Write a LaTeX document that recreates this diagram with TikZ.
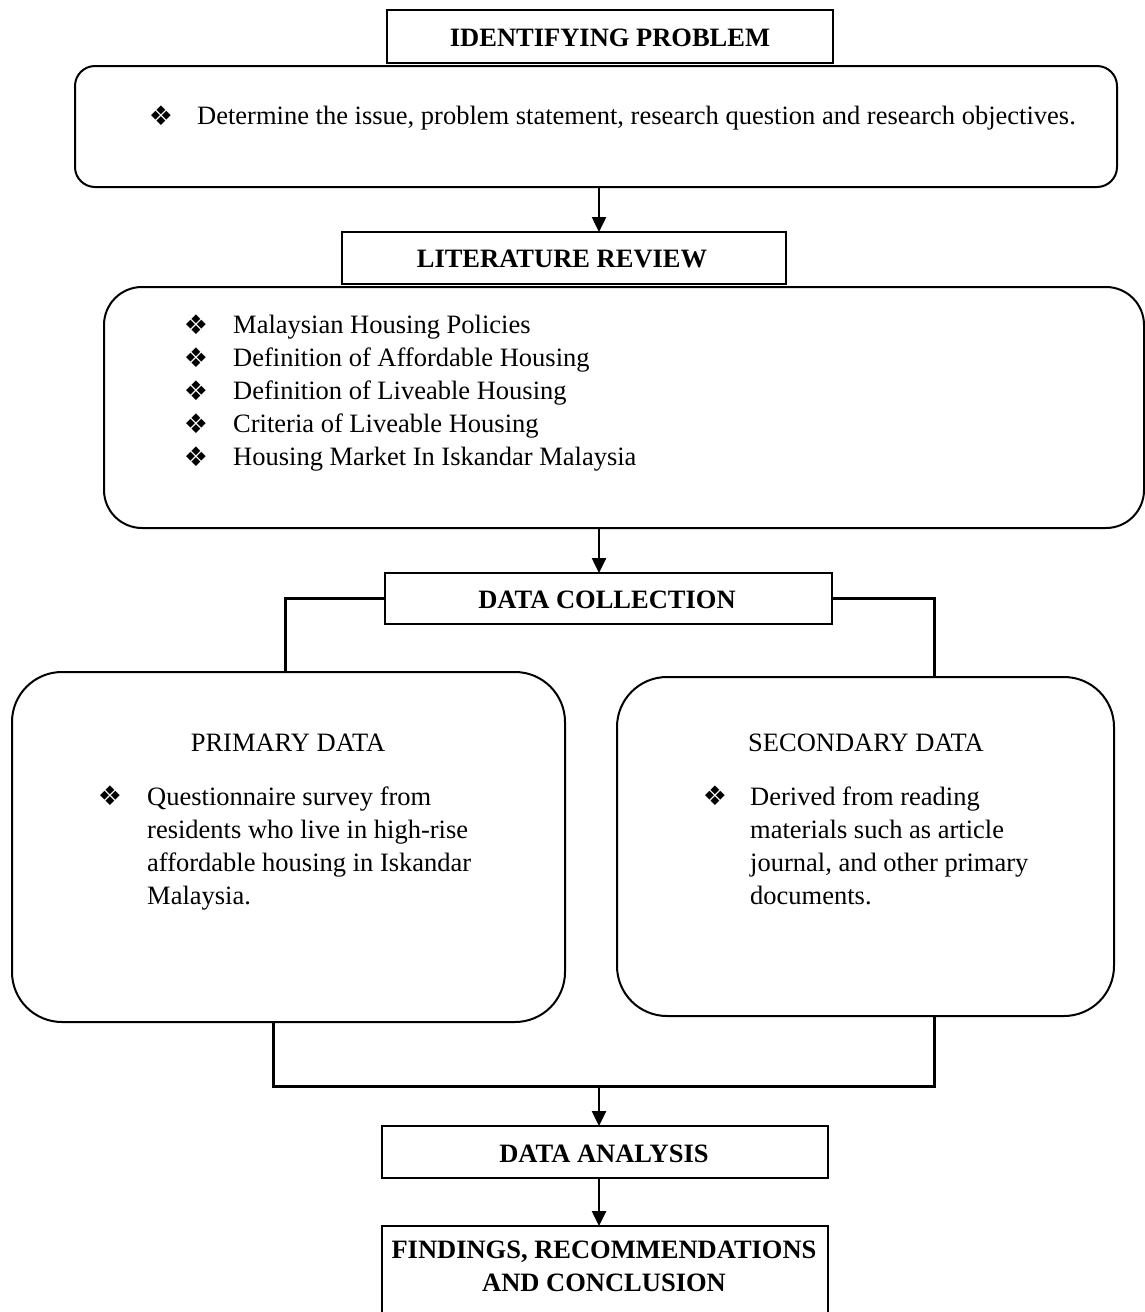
\documentclass[tikz,border=0pt]{standalone}
\usepackage{fontspec}
\setmainfont{Liberation Serif}
\newfontfamily\symfont{DejaVu Sans}
\usetikzlibrary{arrows.meta}
\tikzset{
  sqbox/.style={draw, line width=2pt, inner sep=0pt, outer sep=0pt},
  rndbox/.style={draw, line width=2pt, inner sep=0pt, outer sep=0pt},
  head/.style={font=\fontsize{26.5}{33}\selectfont\bfseries, inner sep=0pt, anchor=base},
  body/.style={font=\fontsize{26.5}{33}\selectfont, inner sep=0pt, anchor=base west},
  bul/.style={font=\fontsize{27}{27}\selectfont\symfont, inner sep=0pt},
  conn/.style={line width=3pt},
  arr/.style={line width=2.5pt, -{Triangle[length=15pt,width=14pt]}},
}
\begin{document}
\begin{tikzpicture}[x=1pt,y=-1pt]
\clip (0,0) rectangle (1145,1312);
% boxes
\node[sqbox, minimum width=446pt, minimum height=53pt] (idp) at (610,36.5) {};
\node[rndbox, rounded corners=20pt, minimum width=1042pt, minimum height=121pt] (b1) at (596,126.5) {};
\node[sqbox, minimum width=444pt, minimum height=52pt] (lit) at (564,258) {};
\node[rndbox, rounded corners=38pt, minimum width=1040pt, minimum height=241pt] (b2) at (624,407.5) {};
\node[sqbox, minimum width=447pt, minimum height=51pt] (dc) at (608.5,598.5) {};
\node[rndbox, rounded corners=50pt, minimum width=553pt, minimum height=350pt] (prim) at (288.5,847) {};
\node[rndbox, rounded corners=50pt, minimum width=497pt, minimum height=339pt] (sec) at (865.5,846.5) {};
\node[sqbox, minimum width=446pt, minimum height=52pt] (da) at (605,1152) {};
\node[sqbox, minimum width=446pt, minimum height=114pt] (fin) at (605,1283) {};
% helper coordinates
\coordinate (ax) at (599,0);
\coordinate (pl) at (285,0);
\coordinate (pr) at (934,0);
\coordinate (bl) at (273,0);
\coordinate (bj) at (599,1086);
% connectors
\draw[arr] (b1.south -| ax) -- (lit.north -| ax);
\draw[arr] (b2.south -| ax) -- (dc.north -| ax);
\draw[conn] (dc.west) -| (pl |- prim.north);
\draw[conn] (dc.east) -| (pr |- sec.north);
\draw[conn] (bl |- prim.south) -- (bl |- bj) -- (pr |- bj) -- (pr |- sec.south);
\draw[arr] (bj) -- (da.north -| bj);
\draw[arr] (da.south -| bj) -- (fin.north -| bj);
% texts
\node[head] (tidp) at (610,46) {IDENTIFYING PROBLEM};
\node[bul] (u1) at (161,116) {❖};
\node[body] (t1) at (197,124) {Determine the issue, problem statement, research question and research objectives.};
\node[head] (tlit) at (562,267) {LITERATURE REVIEW};
\foreach \t [count=\i] in {Malaysian Housing Policies, Definition of Affordable Housing, Definition of Liveable Housing, Criteria of Liveable Housing, Housing Market In Iskandar Malaysia}{
  \node[bul] (lb\i) at (196,{292+33*\i}) {❖};
  \node[body] (lt\i) at (233,{300+33*\i}) {\t};
}
\node[head] (tdc) at (607,608) {DATA COLLECTION};
\node[body, anchor=base] (tpri) at (288,751) {PRIMARY DATA};
\node[bul] (pb) at (110,796) {❖};
\foreach \t [count=\i] in {Questionnaire survey from, residents who live in high-rise, affordable housing in Iskandar, Malaysia.}{
  \node[body] (pt\i) at (147,{772+33*\i}) {\t};
}
\node[body, anchor=base] (tsec) at (866,751) {SECONDARY DATA};
\node[bul] (sb) at (715,796) {❖};
\foreach \t [count=\i] in {Derived from reading, materials such as article, {journal, and other primary}, documents.}{
  \node[body] (st\i) at (750,{772+33*\i}) {\t};
}
\node[head] (tda) at (604,1162) {DATA ANALYSIS};
\node[head] (tf1) at (604,1258) {FINDINGS, RECOMMENDATIONS};
\node[head] (tf2) at (604,1291) {AND CONCLUSION};
\end{tikzpicture}
\end{document}
